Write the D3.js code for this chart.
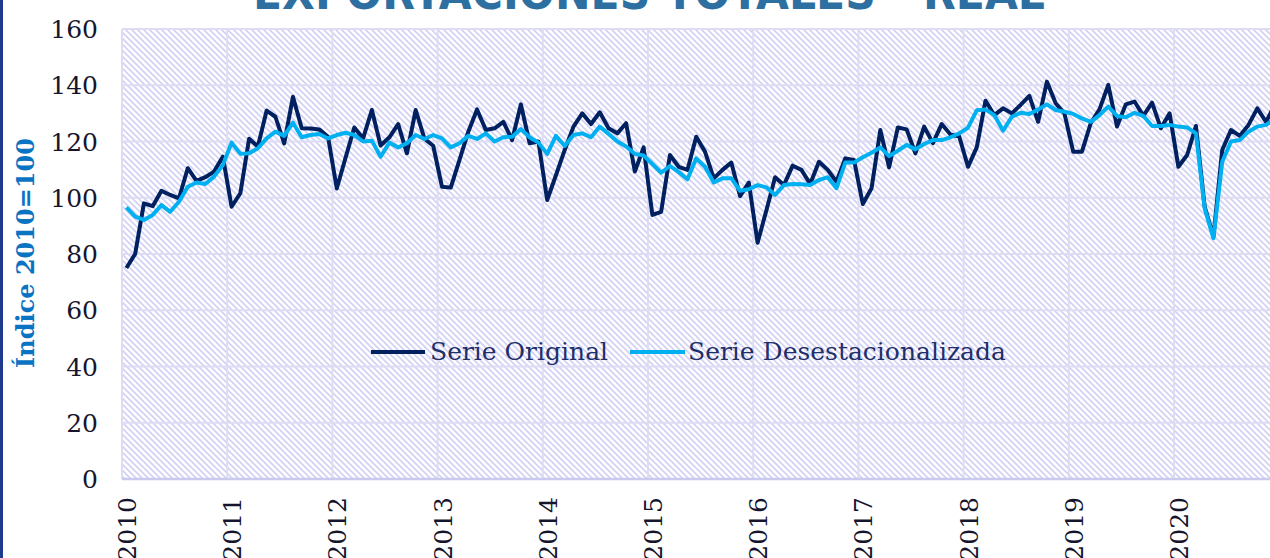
<!DOCTYPE html>
<html>
<head>
<meta charset="utf-8">
<script src="https://cdn.jsdelivr.net/npm/d3@7"></script>
<style>
  html, body { margin: 0; padding: 0; background: #ffffff; }
  svg { display: block; }
</style>
</head>
<body>
<svg id="chart" width="1270" height="558"></svg>
<script>
// Exportaciones totales - real, indice 2010=100, monthly Jan 2010 - Dec 2020

var start_year = 2010;
var year_ticks = [2010, 2011, 2012, 2013, 2014, 2015, 2016, 2017, 2018, 2019, 2020];
var y_ticks = [0, 20, 40, 60, 80, 100, 120, 140, 160];
var series_names = ["Serie Original", "Serie Desestacionalizada"];

var serie_original = [
  75, 80, 98, 97, 102.5, 101, 99.8, 110.5, 106, 107.3, 109.3, 114.6,
  96.8, 101.6, 121, 118.2, 131, 128.8, 119.3, 135.9, 124.7, 124.6, 124.3, 121.7,
  103.3, 114.2, 125, 121.1, 131.2, 118.6, 121.5, 126.2, 115.8, 131.2, 121, 118.5,
  103.9, 103.6, 113.5, 123.5, 131.4, 124.1, 124.7, 127, 120.5, 133.2, 119.4, 120,
  99.2, 108, 117, 125.3, 130, 126.2, 130.4, 124.7, 122.9, 126.5, 109.3, 117.9,
  93.9, 95, 115.2, 111, 109.9, 121.7, 116.4, 106.9, 109.9, 112.5, 100.6, 105.4,
  84, 95.5, 107.3, 104.5, 111.4, 109.9, 104.9, 112.8, 109.9, 105.7, 114, 113.4,
  97.8, 103.4, 124.1, 110.8, 125, 124.3, 115.8, 125.3, 119.4, 126.2, 122.5, 121.8,
  111, 117.9, 134.5, 129.4, 131.8, 130, 133, 136.2, 127, 141.3, 133.6, 130,
  116.4, 116.4, 126.5, 131.4, 140.1, 125.3, 133.2, 134.2, 129.1, 133.8, 124.7, 130,
  111, 115.2, 125.5, 96.8, 86.2, 117, 124.1, 122, 125.9, 131.8, 127, 133
];

var serie_desest = [
  96.6, 93.3, 92.1, 93.9, 97.4, 95, 98.6, 103.9, 105.4, 104.9, 107.5, 111.6,
  119.6, 115.6, 115.8, 117.6, 121.1, 123.5, 122, 126.7, 121.5, 122.3, 122.7, 121.1,
  122.3, 123.1, 122.3, 120, 120.3, 114.6, 119.6, 117.9, 119.4, 122.3, 120.9, 122.3,
  121.1, 117.9, 119.4, 122, 120.9, 122.9, 120, 121.5, 121.7, 124.4, 121.5, 119.6,
  115.6, 122, 118.4, 122.3, 122.9, 121.5, 125.3, 122.7, 120, 118.2, 115.6, 115,
  112, 108.9, 111.3, 109.1, 106.6, 114, 111, 105.4, 106.9, 106.9, 102.5, 103,
  104.5, 103.7, 101, 104.5, 104.9, 104.8, 104.5, 106.3, 107.3, 103.4, 112.5, 112.5,
  114.4, 116, 117.9, 114.8, 116.7, 118.8, 117.2, 119.1, 120.5, 120.5, 121.5, 122.9,
  124.9, 131.1, 131.4, 129.4, 123.8, 128.8, 130.2, 129.8, 131.4, 133.2, 131.2, 130.6,
  129.8, 128.2, 127, 129.4, 132.4, 129.1, 128.6, 130.2, 129.1, 125.5, 125.5, 125.9,
  125.3, 125, 122.9, 96.2, 85.6, 112.8, 120, 120.5, 123.5, 125.3, 125.9, 128
];

var colors = { original: "#002060", desest: "#00b0f0", grid: "#dddcf3", axis: "#cac9ee",
               hatch: "#d2d1f5", text: "#15152e", legend: "#1f2f6a", title: "#2e6fa1",
               ylabel: "#0b74c2", frame: "#1f3a8c" };

var svg = d3.select("#chart");
var width = +svg.attr("width");
var height = +svg.attr("height");

var plot = { left: 122, top: 29, bottom: 479, right: width };
var year_px = 105.2;

// scales
var x = d3.scaleLinear()
  .domain([start_year, start_year + 11])
  .range([plot.left, plot.left + 11 * year_px]);
var y = d3.scaleLinear()
  .domain([0, 160])
  .range([plot.bottom, plot.top]);

// month index -> fractional year at the middle of the month
function month_pos(i) { return start_year + (i + 0.5) / 12; }

var defs = svg.append("defs");

// diagonal hatch background
var pat = defs.append("pattern")
  .attr("id", "hatch")
  .attr("patternUnits", "userSpaceOnUse")
  .attr("width", 6)
  .attr("height", 6);
pat.append("rect").attr("width", 6).attr("height", 6).attr("fill", "#ffffff");
pat.append("path")
  .attr("d", "M-1,-1 L7,7 M-4,2 L2,8 M2,-4 L8,2")
  .attr("stroke", colors.hatch)
  .attr("stroke-width", 1.6);

defs.append("clipPath").attr("id", "plot_clip")
  .append("rect")
  .attr("x", plot.left)
  .attr("y", plot.top - 5)
  .attr("width", plot.right - plot.left)
  .attr("height", plot.bottom - plot.top + 10);

// left frame line
svg.append("rect")
  .attr("x", 0).attr("y", 0)
  .attr("width", 3).attr("height", height)
  .attr("fill", colors.frame);

// title (mostly out of the picture at the top)
svg.append("text")
  .attr("x", 253)
  .attr("y", 9)
  .attr("textLength", 792)
  .attr("lengthAdjust", "spacingAndGlyphs")
  .style("font-family", "'DejaVu Sans', sans-serif")
  .style("font-weight", "bold")
  .style("font-size", "46px")
  .style("fill", colors.title)
  .text("EXPORTACIONES TOTALES - REAL");

// plot background
svg.append("rect")
  .attr("x", plot.left)
  .attr("y", plot.top)
  .attr("width", plot.right - plot.left)
  .attr("height", plot.bottom - plot.top)
  .attr("fill", "url(#hatch)");

// horizontal grid
svg.append("g")
  .selectAll("line")
  .data(y_ticks.filter(function(d) { return d > 0; }))
  .enter()
  .append("line")
  .attr("x1", plot.left)
  .attr("x2", plot.right)
  .attr("y1", function(d) { return y(d); })
  .attr("y2", function(d) { return y(d); })
  .attr("stroke", colors.grid)
  .attr("stroke-width", 2);

// vertical grid at each year
svg.append("g")
  .selectAll("line")
  .data(year_ticks)
  .enter()
  .append("line")
  .attr("x1", function(d) { return x(d); })
  .attr("x2", function(d) { return x(d); })
  .attr("y1", plot.top)
  .attr("y2", plot.bottom)
  .attr("stroke", colors.grid)
  .attr("stroke-width", 2);

// bottom axis line
svg.append("line")
  .attr("x1", plot.left)
  .attr("x2", plot.right)
  .attr("y1", plot.bottom)
  .attr("y2", plot.bottom)
  .attr("stroke", colors.axis)
  .attr("stroke-width", 2.5);

// y tick labels
svg.append("g")
  .selectAll("text")
  .data(y_ticks)
  .enter()
  .append("text")
  .attr("x", 98)
  .attr("y", function(d) { return y(d); })
  .attr("dy", "0.36em")
  .style("text-anchor", "end")
  .style("font-family", "'DejaVu Serif', serif")
  .style("font-size", "25px")
  .style("fill", colors.text)
  .text(function(d) { return d; });

// x tick labels, rotated
svg.append("g")
  .selectAll("text")
  .data(year_ticks)
  .enter()
  .append("text")
  .attr("transform", function(d) { return "translate(" + x(d) + ",497) rotate(-90)"; })
  .attr("dy", "0.56em")
  .style("text-anchor", "end")
  .style("font-family", "'DejaVu Serif', serif")
  .style("font-size", "25px")
  .style("fill", colors.text)
  .text(function(d) { return d; });

// y axis title
svg.append("text")
  .attr("transform", "translate(34,253) rotate(-90)")
  .style("text-anchor", "middle")
  .style("font-family", "'DejaVu Serif', serif")
  .style("font-weight", "bold")
  .style("font-size", "24px")
  .style("fill", colors.ylabel)
  .text("Índice 2010=100");

// lines
var line = d3.line()
  .x(function(d, i) { return x(month_pos(i)); })
  .y(function(d) { return y(d); });

var lines_g = svg.append("g").attr("clip-path", "url(#plot_clip)");

lines_g.append("path")
  .datum(serie_original)
  .attr("d", line)
  .attr("fill", "none")
  .attr("stroke", colors.original)
  .attr("stroke-width", 4)
  .attr("stroke-linejoin", "round");

lines_g.append("path")
  .datum(serie_desest)
  .attr("d", line)
  .attr("fill", "none")
  .attr("stroke", colors.desest)
  .attr("stroke-width", 4)
  .attr("stroke-linejoin", "round");

// legend
var legend_items = [
  { name: series_names[0], color: colors.original, x1: 371, x2: 425, tx: 430 },
  { name: series_names[1], color: colors.desest, x1: 630, x2: 685, tx: 688 }
];
var legend = svg.append("g");
legend.selectAll("line")
  .data(legend_items)
  .enter()
  .append("line")
  .attr("x1", function(d) { return d.x1; })
  .attr("x2", function(d) { return d.x2; })
  .attr("y1", 352)
  .attr("y2", 352)
  .attr("stroke", function(d) { return d.color; })
  .attr("stroke-width", 4);
legend.selectAll("text")
  .data(legend_items)
  .enter()
  .append("text")
  .attr("x", function(d) { return d.tx; })
  .attr("y", 352)
  .attr("dy", "0.33em")
  .style("font-family", "'DejaVu Serif', serif")
  .style("font-size", "25px")
  .style("fill", colors.legend)
  .text(function(d) { return d.name; });
</script>
</body>
</html>
